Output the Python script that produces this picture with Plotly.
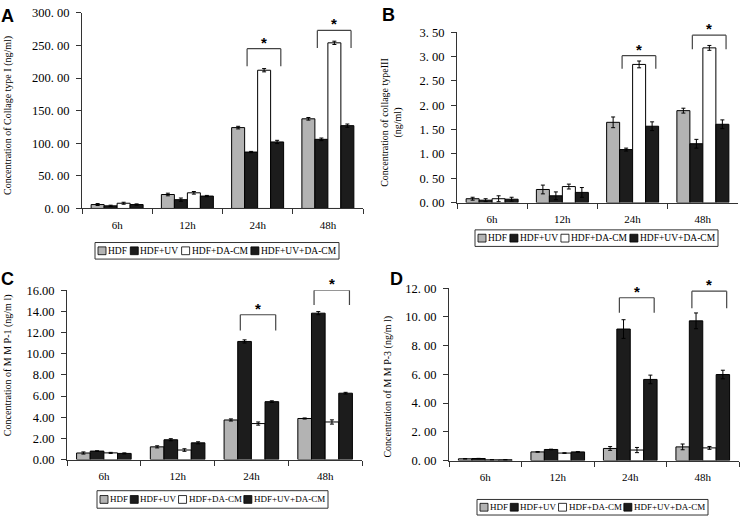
import plotly.graph_objects as go

W, H = 741, 523

categories = ["6h", "12h", "24h", "48h"]
series_names = ["HDF", "HDF+UV", "HDF+DA-CM", "HDF+UV+DA-CM"]

# Panel A: Collagen type I (ng/ml)
a_hdf = [6.0, 21.4, 124.0, 137.5]
a_hdf_err = [1.5, 2.0, 2.0, 2.0]
a_uv = [4.0, 13.5, 86.5, 106.0]
a_uv_err = [1.0, 2.5, 1.0, 2.0]
a_da = [8.0, 24.0, 212.0, 254.0]
a_da_err = [1.5, 2.0, 2.5, 2.5]
a_uvda = [6.0, 19.0, 102.0, 127.0]
a_uvda_err = [1.0, 1.0, 2.5, 2.5]
a_ticks = [0, 50, 100, 150, 200, 250, 300]

# Panel B: Collagen type III (ng/ml)
b_hdf = [0.08, 0.27, 1.65, 1.89]
b_hdf_err = [0.03, 0.09, 0.11, 0.05]
b_uv = [0.05, 0.14, 1.09, 1.21]
b_uv_err = [0.03, 0.08, 0.03, 0.09]
b_da = [0.08, 0.33, 2.84, 3.18]
b_da_err = [0.06, 0.05, 0.07, 0.05]
b_uvda = [0.07, 0.21, 1.57, 1.61]
b_uvda_err = [0.04, 0.10, 0.09, 0.09]
b_ticks = [0, 0.5, 1.0, 1.5, 2.0, 2.5, 3.0, 3.5]

# Panel C: MMP-1 (ng/ml)
c_hdf = [0.62, 1.20, 3.74, 3.88]
c_hdf_err = [0.10, 0.10, 0.10, 0.05]
c_uv = [0.80, 1.87, 11.16, 13.83]
c_uv_err = [0.03, 0.10, 0.15, 0.15]
c_da = [0.63, 0.90, 3.40, 3.55]
c_da_err = [0.05, 0.12, 0.15, 0.20]
c_uvda = [0.58, 1.58, 5.47, 6.27]
c_uvda_err = [0.05, 0.10, 0.08, 0.08]
c_ticks = [0, 2, 4, 6, 8, 10, 12, 14, 16]

# Panel D: MMP-3 (ng/ml)
d_hdf = [0.12, 0.60, 0.84, 0.95]
d_hdf_err = [0.01, 0.02, 0.13, 0.20]
d_uv = [0.14, 0.77, 9.16, 9.73]
d_uv_err = [0.01, 0.02, 0.65, 0.55]
d_da = [0.05, 0.52, 0.73, 0.88]
d_da_err = [0.01, 0.02, 0.18, 0.10]
d_uvda = [0.05, 0.60, 5.65, 5.99]
d_uvda_err = [0.01, 0.02, 0.30, 0.30]
d_ticks = [0, 2, 4, 6, 8, 10, 12]

# significance brackets: category, bracket top, leg bottom
a_sig_cat = ["24h", "48h"]
a_sig_top = [245.0, 273.0]
a_sig_leg = [218.0, 246.0]
b_sig_cat = ["24h", "48h"]
b_sig_top = [3.02, 3.44]
b_sig_leg = [2.75, 3.15]
c_sig_cat = ["24h", "48h"]
c_sig_top = [13.68, 16.0]
c_sig_leg = [12.2, 14.6]
d_sig_cat = ["24h", "48h"]
d_sig_top = [11.34, 11.8]
d_sig_leg = [10.3, 10.6]

FILLS = ["#b3b3b3", "#1c1c1c", "#ffffff", "#1c1c1c"]
SERIF = "Liberation Serif"
AXC = "#333333"

panels = [
    dict(letter="A", vals=[a_hdf, a_uv, a_da, a_uvda], errs=[a_hdf_err, a_uv_err, a_da_err, a_uvda_err],
         ticks=a_ticks, sep=". ", box=(82, 6, 363, 207),
         title="Concentration of Collage type I (ng/ml)", title_xy=(8, 112),
         letter_xy=(7, 9), legend=(95, 242, 339, 259), legfs=9.5,
         sig=(a_sig_cat, a_sig_top, a_sig_leg)),
    dict(letter="B", vals=[b_hdf, b_uv, b_da, b_uvda], errs=[b_hdf_err, b_uv_err, b_da_err, b_uvda_err],
         ticks=b_ticks, sep=". ", box=(457, 26, 738, 201),
         title="Concentration of collage typeIII<br>(ng/ml)", title_xy=(392, 119),
         letter_xy=(389, 8), legend=(475, 229, 718, 246), legfs=9.5,
         sig=(b_sig_cat, b_sig_top, b_sig_leg)),
    dict(letter="C", vals=[c_hdf, c_uv, c_da, c_uvda], errs=[c_hdf_err, c_uv_err, c_da_err, c_uvda_err],
         ticks=c_ticks, sep=".", box=(67, 291, 362, 465),
         title="Concentration of M M P-1 (ng/m l)", title_xy=(8, 368),
         letter_xy=(7, 279), legend=(97, 497, 328, 515), legfs=9,
         sig=(c_sig_cat, c_sig_top, c_sig_leg)),
    dict(letter="D", vals=[d_hdf, d_uv, d_da, d_uvda], errs=[d_hdf_err, d_uv_err, d_da_err, d_uvda_err],
         ticks=d_ticks, sep=". ", box=(449, 289, 739, 466),
         title="Concentration of M M P-3 (ng/m l)", title_xy=(388, 390),
         letter_xy=(396, 279), legend=(477, 506, 708, 522), legfs=9,
         sig=(d_sig_cat, d_sig_top, d_sig_leg)),
]

BR_LEFT, BR_RIGHT = -0.15, 0.33
# approximate glyph widths (em) of the serif font, used to lay out the legend rows
EM = {"H": .722, "D": .722, "F": .556, "+": .564, "U": .722, "V": .722,
      "A": .722, "-": .333, "C": .667, "M": .889}


def px(x):
    return x / W


def py(y):
    return 1 - y / H


fig = go.Figure()
layout = dict(
    width=W, height=H, margin=dict(l=0, r=0, t=0, b=0),
    paper_bgcolor="white", plot_bgcolor="white",
    barmode="group", bargap=0.26, bargroupgap=0.0,
    showlegend=False, font=dict(family=SERIF, color="black"),
)
shapes, annotations = [], []

for i, p in enumerate(panels):
    sfx = "" if i == 0 else str(i + 1)
    xa, ya = "x" + sfx, "y" + sfx
    for k in range(4):
        fig.add_trace(go.Bar(
            x=categories, y=p["vals"][k], name=series_names[k],
            error_y=dict(type="data", array=p["errs"][k], color="black", thickness=1, width=2),
            marker=dict(color=FILLS[k], line=dict(color="black", width=1)),
            xaxis=xa, yaxis=ya, showlegend=False,
        ))
    x0, y0, x1, y1 = p["box"]
    ticks = p["ticks"]
    layout["xaxis" + sfx] = dict(
        domain=[px(x0), px(x1)], anchor=ya, type="category", range=[-0.5, 3.5],
        showline=True, linecolor=AXC, linewidth=1, ticks="outside", tickson="boundaries",
        ticklen=5, tickcolor=AXC, showgrid=False, zeroline=False,
        tickfont=dict(family=SERIF, size=11, color="black"), ticklabelstandoff=6,
    )
    layout["yaxis" + sfx] = dict(
        domain=[py(y1), py(y0)], anchor=xa, range=[0, ticks[-1]],
        tickvals=ticks, ticktext=[f"{t:.2f}".replace(".", p["sep"]) for t in ticks],
        showline=True, linecolor=AXC, linewidth=1, ticks="outside", ticklen=5, tickcolor=AXC,
        showgrid=False, zeroline=False,
        tickfont=dict(family=SERIF, size=12.5, color="black"), ticklabelstandoff=4,
    )
    # significance brackets
    cats, tops, legs = p["sig"]
    for c, top, leg in zip(cats, tops, legs):
        ci = categories.index(c)
        xl, xr = ci + BR_LEFT, ci + BR_RIGHT
        for (sx0, sy0, sx1, sy1) in [(xl, leg, xl, top), (xl, top, xr, top), (xr, top, xr, leg)]:
            shapes.append(dict(type="line", xref=xa, yref=ya, x0=sx0, y0=sy0, x1=sx1, y1=sy1,
                               line=dict(color="#444444", width=1.2)))
        annotations.append(dict(xref=xa, yref=ya, x=(xl + xr) / 2, y=top, text="<b>*</b>",
                                showarrow=False, yanchor="bottom", yshift=-4,
                                font=dict(family="Liberation Sans", size=15, color="black")))
    # axis title
    tx, ty = p["title_xy"]
    annotations.append(dict(xref="paper", yref="paper", x=px(tx), y=py(ty), text=p["title"],
                            textangle=-90, showarrow=False, xanchor="center", yanchor="middle",
                            font=dict(family=SERIF, size=10, color="black")))
    # panel letter
    lx, ly = p["letter_xy"]
    annotations.append(dict(xref="paper", yref="paper", x=px(lx), y=py(ly), text="<b>" + p["letter"] + "</b>",
                            showarrow=False, xanchor="center", yanchor="middle",
                            font=dict(family="Liberation Sans", size=18, color="black")))
    # legend box
    lx0, ly0, lx1, ly1 = p["legend"]
    fs = p["legfs"]
    shapes.append(dict(type="rect", xref="paper", yref="paper", x0=px(lx0), y0=py(ly1), x1=px(lx1), y1=py(ly0),
                       line=dict(color="#333333", width=1), fillcolor="rgba(0,0,0,0)"))
    cy = (ly0 + ly1) / 2
    sq, gap, pad = 8, 2, 3
    widths = [sum(EM[ch] for ch in n) * fs for n in series_names]
    spacing = ((lx1 - lx0) - 2 * pad - sum(sq + gap + w for w in widths)) / 3
    sx = lx0 + pad
    for k in range(4):
        shapes.append(dict(type="rect", xref="paper", yref="paper", x0=px(sx), x1=px(sx + sq),
                           y0=py(cy + sq / 2), y1=py(cy - sq / 2),
                           line=dict(color="black", width=0.8), fillcolor=FILLS[k]))
        annotations.append(dict(xref="paper", yref="paper", x=px(sx + sq + gap), y=py(cy), text=series_names[k],
                                showarrow=False, xanchor="left", yanchor="middle", borderpad=0, borderwidth=0,
                                font=dict(family=SERIF, size=fs, color="black")))
        sx += sq + gap + widths[k] + spacing

layout["shapes"] = shapes
layout["annotations"] = annotations
fig.update_layout(**layout)
fig.write_html("out.html", config={"displayModeBar": False},
               post_script="document.body.style.margin='0px';document.body.style.overflow='hidden';")
